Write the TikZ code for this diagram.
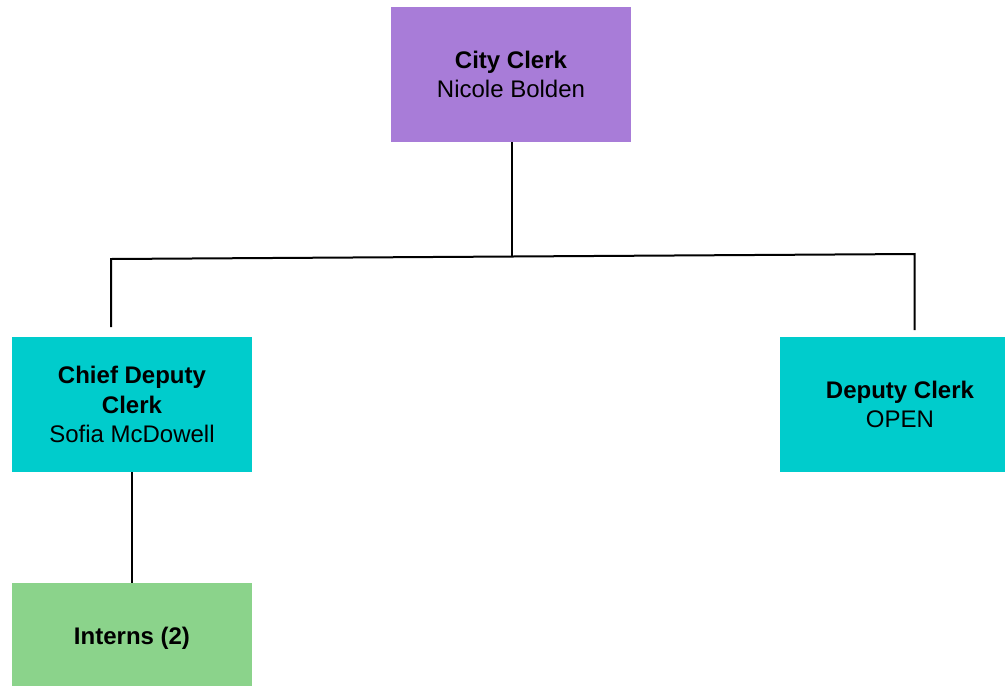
\documentclass[tikz,border=0pt]{standalone}
\usepackage{fontspec}
\setmainfont{Liberation Sans}
\definecolor{clerkpurple}{RGB}{168,124,216}
\definecolor{deputycyan}{RGB}{0,204,204}
\definecolor{interngreen}{RGB}{139,211,139}
\begin{document}
\begin{tikzpicture}[x=1pt,y=-1pt,
  box/.style={rectangle, inner sep=0pt, outer sep=0pt, align=center,
    font=\fontsize{24}{29.5}\selectfont, text=black,
    minimum width=240pt, minimum height=135pt},
  link/.style={line width=2pt, black}]
\useasboundingbox (0,0) rectangle (1005,686);
\clip (0,0) rectangle (1005,686);
\fill[white] (0,0) rectangle (1005,686);
\node[box, fill=clerkpurple] (city) at (511,74.5) {\textbf{City Clerk}\\Nicole Bolden};
\node[box, fill=deputycyan] (chief) at (132,404.5) {\textbf{Chief Deputy}\\\textbf{Clerk}\\Sofia McDowell};
\node[box, fill=deputycyan] (deputy) at (900,404.5) {\textbf{Deputy Clerk}\\OPEN};
\node[box, fill=interngreen, minimum height=110pt] (interns) at (132,638) {\textbf{Interns (2)}};
\coordinate (jc) at (512,256.5);
\coordinate (jl) at (111,259);
\coordinate (jr) at (914.5,254);
\coordinate (cl) at (111,327);
\coordinate (cr) at (914.5,330);
\draw[link] (city.south -| jc) -- (jc);
\draw[link] (cl) -- (jl) -- (jr) -- (cr);
\draw[link] (chief.south) -- (interns.north);
\end{tikzpicture}
\end{document}
